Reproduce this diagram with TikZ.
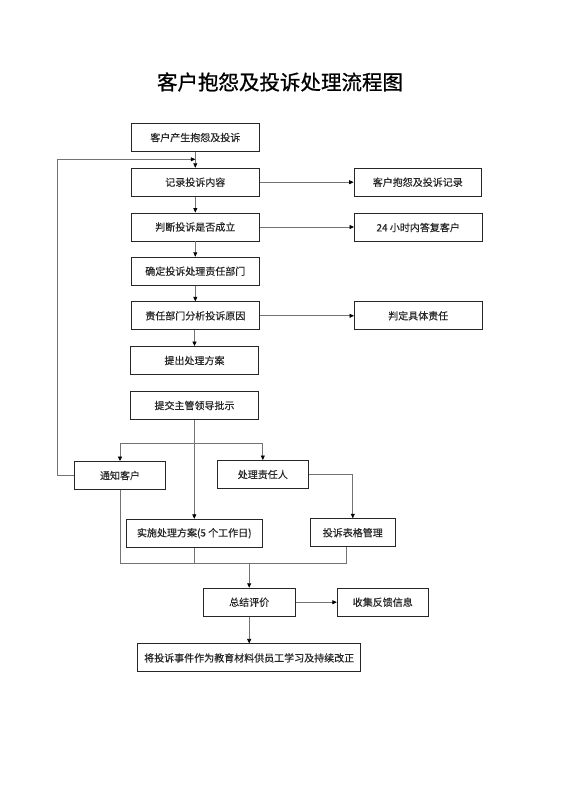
\documentclass[tikz,border=0pt]{standalone}
\usepackage{fontspec}
\setmainfont{Noto Sans CJK SC}
\newfontfamily\titlefont[FakeBold=0.8]{Noto Sans CJK SC}
\newfontfamily\boxfont[FakeBold=0.3]{Noto Sans CJK SC}
\usetikzlibrary{arrows.meta}
\tikzset{
  box/.style={draw=black!85, line width=0.9pt, minimum width=127.5pt, minimum height=28pt, inner sep=0pt, font=\boxfont\fontsize{10pt}{12pt}\selectfont, text=black!85},
  conn/.style={draw=black!55, line width=0.7pt},
  arr/.style={conn, -{Triangle[length=4.5pt,width=4pt,fill=black,color=black]}},
}
\begin{document}
\begin{tikzpicture}[x=1pt,y=-1pt]
\useasboundingbox (0,0) rectangle (560,792);
\node[font=\titlefont\fontsize{20.5pt}{24pt}\selectfont, text=black] (title) at (280,82) {客户抱怨及投诉处理流程图};

\node[box] (b1) at (195.3,137.5) {客户产生抱怨及投诉};
\node[box] (b2) at (195.3,182.2) {记录投诉内容};
\node[box] (b3) at (195.3,227.0) {判断投诉是否成立};
\node[box] (b4) at (195.3,271.2) {确定投诉处理责任部门};
\node[box] (b5) at (195.3,315.8) {责任部门分析投诉原因};
\node[box] (b6) at (194.5,360.5) {提出处理方案};
\node[box] (b7) at (194.5,405.5) {提交主管领导批示};

\node[box] (r1) at (417.8,182.2) {客户抱怨及投诉记录};
\node[box] (r2) at (418.2,227.5) {24 小时内答复客户};
\node[box] (r3) at (418.2,315.8) {判定具体责任};

\node[box, minimum width=91.4pt] (n1) at (120,475.5) {通知客户};
\node[box, minimum width=91pt] (n2) at (262.8,474.5) {处理责任人};
\node[box, minimum width=136.7pt] (n3) at (194.3,533.3) {实施处理方案(5 个工作日)};
\node[box, minimum width=84.3pt] (n4) at (352.8,532.7) {投诉表格管理};

\node[box, minimum width=91.7pt] (s1) at (249.2,602.2) {总结评价};
\node[box, minimum width=91pt] (s2) at (382.8,602.2) {收集反馈信息};
\node[box, minimum width=223pt] (f) at (249.2,657.9) {将投诉事件作为教育材料供员工学习及持续改正};

\coordinate (loopin) at (195.3,159.3);
\coordinate (split) at (194.3,443.3);
\coordinate (merge) at (249.2,563.3);

% main column
\draw[arr] (b1) -- (b2);
\draw[arr] (b2) -- (b3);
\draw[arr] (b3) -- (b4);
\draw[arr] (b4) -- (b5);
\draw[arr] (b5.south -| b6) -- (b6);
% right branches
\draw[arr] (b2) -- (r1);
\draw[arr] (b3.east) -- (b3.east -| r2.west);
\draw[arr] (b5) -- (r3);
% loop back
\draw[arr] (n1.west) -- (57.3,475.5) -- (57.3,159.3) -- (loopin);
% from b7
\draw[arr] (b7.south -| n3) -- (n3.north);
\draw[conn] (n1.north |- split) -- (n2.north |- split);
\draw[arr] (n1.north |- split) -- (n1.north);
\draw[arr] (n2.north |- split) -- (n2.north);
\draw[arr] (n2.east) -- (n2.east -| n4) -- (n4.north);
% merge
\draw[conn] (n1.south) -- (n1.south |- merge) -- (346.7,563.3) -- (346.7,546.7);
\draw[conn] (n3.south) -- (n3.south |- merge);
\draw[arr] (merge) -- (s1.north);
\draw[arr] (s1) -- (s2);
\draw[arr] (s1) -- (f);
\end{tikzpicture}
\end{document}
